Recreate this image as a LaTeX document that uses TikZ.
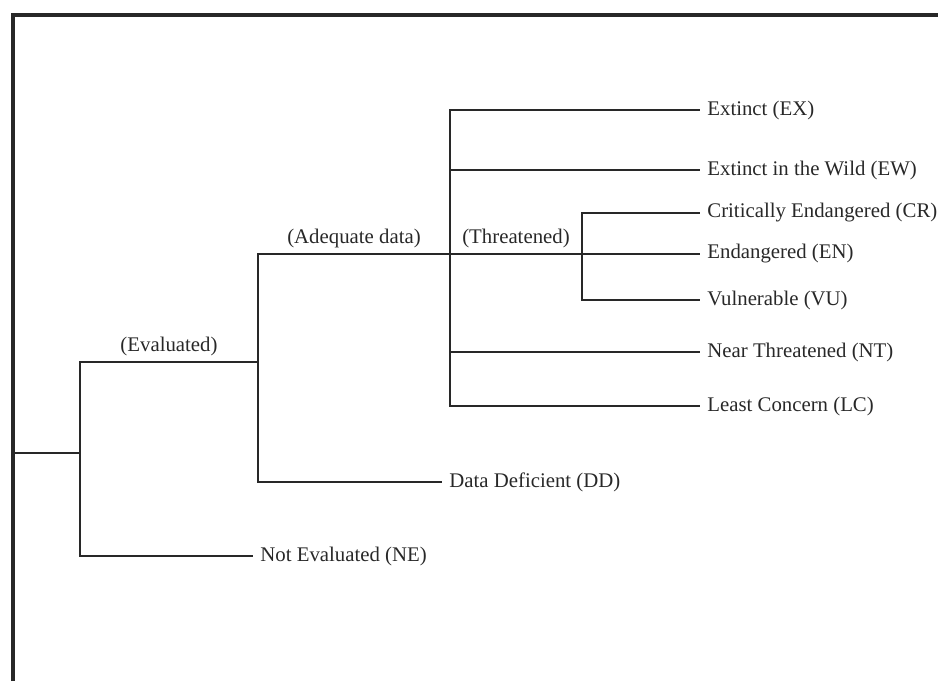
\documentclass[tikz,border=0pt]{standalone}
\usepackage{fontspec}
\setmainfont{Liberation Serif}
\usetikzlibrary{positioning, calc}
\usepackage{xcolor}
\definecolor{ink}{RGB}{40,40,40}

\begin{document}
\begin{tikzpicture}[
          x=0.5pt, y=-0.5pt,
          leaf/.style={anchor=west, inner xsep=3.5pt, inner ysep=0pt,
                       font=\fontsize{10.4}{12}\selectfont, text=ink},
          tag/.style={above, inner sep=2.5pt, font=\fontsize{10.4}{12}\selectfont, text=ink},
          branch/.style={draw=ink, line width=0.8pt},
          frame/.style={draw=ink, line width=1.6pt}
        ]
        \useasboundingbox (0,0) rectangle (938,681);
        \draw[frame] (13,681) -- (13,15) -- (940,15);
        \coordinate (base) at (13,453);
        \coordinate (n0) at (80,453);
        \coordinate (n1) at (258,362);
        \coordinate (n2) at (450,254);
        \coordinate (n3) at (582,254);
        \node[leaf] (ex) at (700,110) {Extinct (EX)};
        \node[leaf] (ew) at (700,170) {Extinct in the Wild (EW)};
        \node[leaf] (cr) at (700,213) {Critically Endangered (CR)};
        \node[leaf] (en) at (700,254) {Endangered (EN)};
        \node[leaf] (vu) at (700,300) {Vulnerable (VU)};
        \node[leaf] (nt) at (700,352) {Near Threatened (NT)};
        \node[leaf] (lc) at (700,406) {Least Concern (LC)};
        \node[leaf] (dd) at (442,482) {Data Deficient (DD)};
        \node[leaf] (ne) at (253,556) {Not Evaluated (NE)};
        \draw[branch] (base) -- (n0);
        \draw[branch] (n0) |- node[tag, pos=0.75] {(Evaluated)} (n1);
        \draw[branch] (n0) |- (ne);
        \draw[branch] (n1) |- node[tag, pos=0.75] {(Adequate data)} (n2);
        \draw[branch] (n1) |- (dd);
        \draw[branch] (n2) -- node[tag] {(Threatened)} (n3);
        \draw[branch] (n2) |- (ex);
        \draw[branch] (n2) |- (ew);
        \draw[branch] (n2) |- (nt);
        \draw[branch] (n2) |- (lc);
        \draw[branch] (n3) |- (cr);
        \draw[branch] (n3) -- (en);
        \draw[branch] (n3) |- (vu);
      \end{tikzpicture}
\end{document}
